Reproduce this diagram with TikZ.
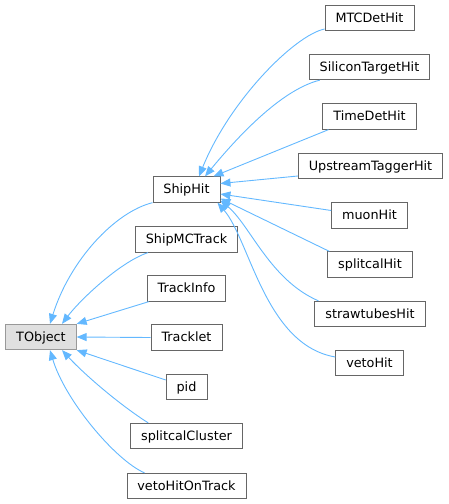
\documentclass[tikz,border=0pt]{standalone}
\usepackage{fontspec}
\setmainfont{DejaVu Sans}
\usetikzlibrary{arrows.meta}
\definecolor{edgeblue}{HTML}{63B8FF}
\definecolor{boxgray}{HTML}{666666}
\definecolor{basegray}{HTML}{999999}
\definecolor{basefill}{HTML}{E0E0E0}

\begin{document}
\begin{tikzpicture}[x=1pt,y=-1pt,>={Triangle[length=10pt,width=8pt]},
    cls/.style={draw=boxgray,fill=white,line width=0.8pt,inner xsep=10.5pt,inner ysep=0pt,
      minimum height=25.5pt,text height=11pt,text depth=2.2pt,font=\fontsize{12.8}{15}\selectfont},
    baseclass/.style={cls,draw=basegray,fill=basefill},
    inh/.style={draw=edgeblue,line width=0.9pt,->}]
      \useasboundingbox (0,0) rectangle (449,504);
      % base class and direct children
      \node[baseclass] (tobj) at (41,337) {TObject};
      \node[cls] (shiphit) at (186.5,189.5) {ShipHit};
      \node[cls] (shipmc) at (186.5,239.5) {ShipMCTrack};
      \node[cls] (trackinfo) at (186.5,288.5) {TrackInfo};
      \node[cls] (tracklet) at (186.5,337.5) {Tracklet};
      \node[cls] (pid) at (186.5,387) {pid};
      \node[cls] (splitcl) at (186.5,436) {splitcalCluster};
      \node[cls] (vetoot) at (186.5,486) {vetoHitOnTrack};
      % children of ShipHit
      \node[cls] (mtc) at (369.5,18) {MTCDetHit};
      \node[cls] (sitarget) at (369.5,67) {SiliconTargetHit};
      \node[cls] (timedet) at (369.5,116.5) {TimeDetHit};
      \node[cls] (upstream) at (370.5,166) {UpstreamTaggerHit};
      \node[cls] (muon) at (369.5,215.5) {muonHit};
      \node[cls] (splitcal) at (370,264.5) {splitcalHit};
      \node[cls] (straw) at (370,314) {strawtubesHit};
      \node[cls] (veto) at (369.5,363) {vetoHit};
      % inheritance to TObject
      \draw[inh] (shiphit.south west) .. controls (115,212) and (70,260) .. ([xshift=9pt]tobj.north);
      \draw[inh] ([xshift=13pt]shipmc.south west) .. controls (120,262) and (80,300) .. ([xshift=21pt]tobj.north);
      \draw[inh] ([xshift=2pt]trackinfo.south west) -- (tobj.north east);
      \draw[inh] (tracklet.west) -- (tobj.east);
      \draw[inh] ([yshift=7pt]pid.west) -- (tobj.south east);
      \draw[inh] ([xshift=18pt]splitcl.north west) .. controls (120,405) and (85,375) .. ([xshift=21pt]tobj.south);
      \draw[inh] ([xshift=18pt]vetoot.north west) .. controls (115,460) and (65,400) .. ([xshift=9pt]tobj.south);
      % inheritance to ShipHit
      \draw[inh] ([yshift=-11pt]mtc.west) .. controls (295,35) and (230,100) .. ([xshift=12.5pt]shiphit.north);
      \draw[inh] ([xshift=11pt]sitarget.south west) .. controls (280,90) and (235,140) .. ([xshift=18.5pt]shiphit.north);
      \draw[inh] ([xshift=6pt]timedet.south west) -- ([xshift=27pt]shiphit.north);
      \draw[inh] ([yshift=-10pt]upstream.west) -- ([yshift=6pt]shiphit.east);
      \draw[inh] ([yshift=5pt]muon.west) -- ([yshift=-4.5pt]shiphit.east);
      \draw[inh] ([xshift=2pt]splitcal.north west) -- ([yshift=-9pt]shiphit.east);
      \draw[inh] ([xshift=4pt]straw.north west) .. controls (270,280) and (250,225) .. ([yshift=-11pt]shiphit.east);
      \draw[inh] ([yshift=6pt]veto.west) .. controls (265,345) and (250,240) .. ([xshift=-3pt]shiphit.south east);
    \end{tikzpicture}
\end{document}
